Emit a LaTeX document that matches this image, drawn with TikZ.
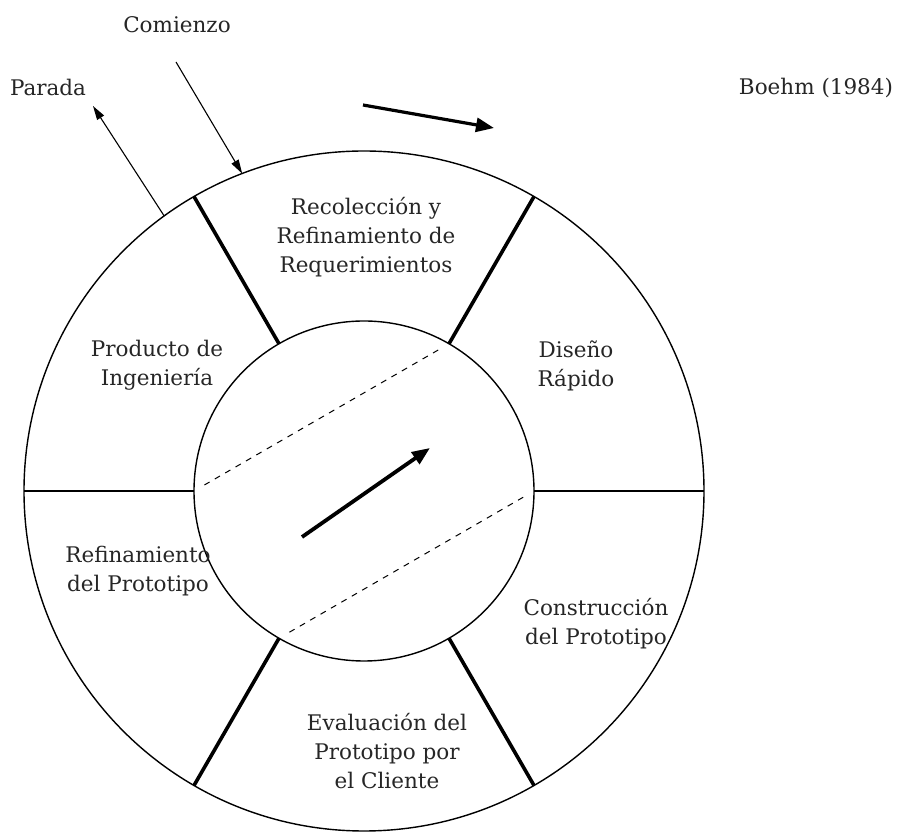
\documentclass[tikz,border=0pt]{standalone}
\usepackage{fontspec}
\setmainfont{DejaVu Serif}
\usetikzlibrary{arrows.meta,calc}
\begin{document}
\begin{tikzpicture}[x=1pt,y=1pt,
  ring/.style={draw, circle, inner sep=0pt, outer sep=0pt, line width=1.4pt},
  divider/.style={line width=3.6pt},
  flatdivider/.style={line width=2.8pt},
  chord/.style={dashed, dash pattern=on 6pt off 6pt, line width=1pt, shorten <=12pt, shorten >=10pt},
  lbl/.style={align=center, font=\fontsize{21.5}{29}\selectfont, text=black!85, inner sep=0pt},
  thinarrow/.style={line width=1.1pt, -{Triangle[length=14pt,width=8pt]}},
  boldarrow/.style={line width=3.8pt, -{Triangle[length=18pt,width=14pt]}}]
\useasboundingbox (0,0) rectangle (898,833);
\fill[white] (0,0) rectangle (898,833);

% the two rings
\coordinate (c) at (364,342);
\node[ring, minimum size=680pt] (outer) at (c) {};
\node[ring, minimum size=340pt] (inner) at (c) {};

% sector dividers
\draw[divider] (inner.60) -- (outer.60);
\draw[divider] (inner.120) -- (outer.120);
\draw[divider] (inner.240) -- (outer.240);
\draw[divider] (inner.300) -- (outer.300);
\draw[flatdivider] (inner.0) -- (outer.0);
\draw[flatdivider] (inner.180) -- (outer.180);

% dashed chords of the inner circle
\draw[chord] (inner.180) -- (inner.60);
\draw[chord] (inner.240) -- (inner.0);

% central direction arrow
\coordinate (ctail) at (302,296);
\coordinate (chead) at (430,385);
\draw[boldarrow] (ctail) -- (chead);

% direction of travel over the top
\coordinate (ttail) at (363,728);
\coordinate (thead) at (494,705);
\draw[boldarrow, line width=3.2pt] (ttail) -- (thead);

% entry and exit
\node[lbl] (comienzo) at (177,808) {Comienzo};
\node[lbl] (parada) at (48,746) {Parada};
\node[lbl] (boehm) at (816,745) {Boehm (1984)};
\coordinate (cstart) at (176,771);
\draw[thinarrow] (cstart) -- (outer.111.4);
\coordinate (pend) at (93,727);
\draw[thinarrow] (outer.126.7) -- (pend);

% sector labels
\node[lbl] (rec) at (366,596) {Recolección y\\Refinamiento de\\Requerimientos};
\node[lbl] (dis) at (576,467) {Diseño\\Rápido};
\node[lbl] (con) at (596,209) {Construcción\\del Prototipo};
\node[lbl] (eva) at (387,82) {Evaluación del\\Prototipo por\\el Cliente};
\node[lbl] (ref) at (138,262) {Refinamiento\\del Prototipo};
\node[lbl] (pro) at (157,468) {Producto de\\Ingeniería};
\end{tikzpicture}
\end{document}
